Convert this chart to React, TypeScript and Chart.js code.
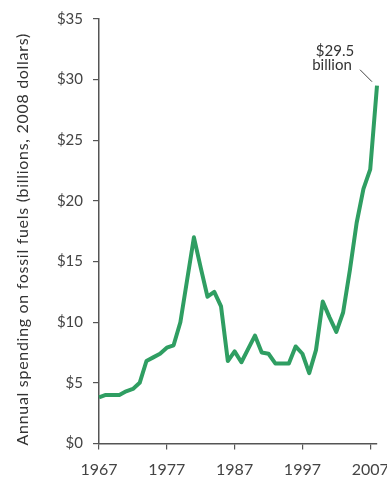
import React, { useEffect, useRef } from "react";
import { Chart, registerables } from "chart.js";

Chart.register(...registerables);

const years: number[] = [
  1967, 1968, 1969, 1970, 1971, 1972, 1973, 1974, 1975, 1976,
  1977, 1978, 1979, 1980, 1981, 1982, 1983, 1984, 1985, 1986,
  1987, 1988, 1989, 1990, 1991, 1992, 1993, 1994, 1995, 1996,
  1997, 1998, 1999, 2000, 2001, 2002, 2003, 2004, 2005, 2006,
  2007, 2008,
];
const spending: number[] = [
  3.8, 4.0, 4.0, 4.0, 4.3, 4.5, 5.0, 6.8, 7.1, 7.4,
  7.9, 8.1, 10.0, 13.5, 17.0, 14.5, 12.1, 12.5, 11.3, 6.8,
  7.6, 6.7, 7.8, 8.9, 7.5, 7.4, 6.6, 6.6, 6.6, 8.0,
  7.4, 5.8, 7.7, 11.7, 10.4, 9.2, 10.8, 14.3, 18.2, 21.0,
  22.6, 29.5,
];
const xTickYears: number[] = [1967, 1977, 1987, 1997, 2007];
const yTitle = "Annual spending on fossil fuels (billions, 2008 dollars)";
const annotationLines: string[] = ["$29.5", "billion"];

const FONT = "Lato, 'Open Sans', sans-serif";
const AXIS = "#555";
const TEXT = "#444";
const GREEN = "#2f9e62";

export default function App() {
  const ref = useRef<HTMLCanvasElement | null>(null);

  useEffect(() => {
    if (!ref.current) return;
    const overlay = {
      id: "overlay",
      afterDatasetsDraw(chart: any) {
        const ctx = chart.ctx;
        const xs = chart.scales.x;
        const ys = chart.scales.y;
        const lastI = years.length - 1;
        const px = xs.getPixelForValue(years[lastI]);
        const py = ys.getPixelForValue(spending[lastI]);
        ctx.save();
        ctx.strokeStyle = "#444";
        ctx.lineWidth = 1;
        ctx.beginPath();
        ctx.moveTo(px - 17, py - 16);
        ctx.lineTo(px - 5, py - 4);
        ctx.stroke();
        ctx.fillStyle = "#333";
        ctx.font = `15px ${FONT}`;
        ctx.textAlign = "center";
        ctx.textBaseline = "middle";
        ctx.fillText(annotationLines[0], px - 42, py - 35);
        ctx.fillText(annotationLines[1], px - 45, py - 20.5);
        ctx.restore();

        // y title
        const cy = (chart.chartArea.top + chart.chartArea.bottom) / 2 + 8;
        ctx.save();
        ctx.translate(28, cy);
        ctx.rotate(-Math.PI / 2);
        ctx.fillStyle = "#333";
        ctx.font = `16px ${FONT}`;
        (ctx as any).letterSpacing = "0.7px";
        ctx.textAlign = "center";
        ctx.textBaseline = "alphabetic";
        ctx.fillText(yTitle, 0, 0);
        ctx.restore();
      },
    };

    const chart = new Chart(ref.current, {
      type: "line",
      data: {
        datasets: [
          {
            data: years.map((y, i) => ({ x: y, y: spending[i] })),
            borderColor: GREEN,
            borderWidth: 4,
            pointRadius: 0,
            tension: 0,
            fill: false,
            borderJoinStyle: "round",
            borderCapStyle: "butt",
            clip: false as any,
          },
        ],
      },
      options: {
        animation: false,
        responsive: false,
        maintainAspectRatio: false,
        layout: { padding: { left: 0, right: 10, top: 19, bottom: 0 } },
        plugins: {
          legend: { display: false },
          tooltip: { enabled: false },
          title: { display: false },
        },
        scales: {
          x: {
            type: "linear",
            min: 1967,
            max: 2008,
            afterBuildTicks: (scale: any) => {
              scale.ticks = xTickYears.map((v) => ({ value: v }));
            },
            afterFit: (scale: any) => {
              scale.height = 34.5;
              scale.paddingLeft = 0;
              scale.paddingRight = 0;
            },
            grid: {
              display: true,
              drawOnChartArea: false,
              drawTicks: true,
              tickLength: 6,
              color: AXIS,
              lineWidth: 1.2,
            },
            border: { display: true, color: AXIS, width: 1.5 },
            ticks: {
              color: TEXT,
              font: { family: FONT, size: 16 },
              padding: 11,
              maxRotation: 0,
              autoSkip: false,
              callback: (v: any) => String(v),
            },
          },
          y: {
            type: "linear",
            min: 0,
            max: 35,
            afterFit: (scale: any) => {
              scale.width = 99;
              scale.paddingTop = 0;
              scale.paddingBottom = 0;
            },
            grid: {
              display: true,
              drawOnChartArea: false,
              drawTicks: true,
              tickLength: 6,
              color: AXIS,
              lineWidth: 1.2,
            },
            border: { display: true, color: AXIS, width: 1.5 },
            ticks: {
              stepSize: 5,
              color: TEXT,
              font: { family: FONT, size: 15 },
              padding: 10,
              callback: (v: any) => "$" + v,
            },
          },
        },
      },
      plugins: [overlay],
    });
    return () => chart.destroy();
  }, []);

  return (
    <div style={{ position: "fixed", left: 0, top: 0, width: 387, height: 478, background: "#fff" }}>
      <canvas ref={ref} width={387} height={478} style={{ width: 387, height: 478, display: "block" }} />
    </div>
  );
}
